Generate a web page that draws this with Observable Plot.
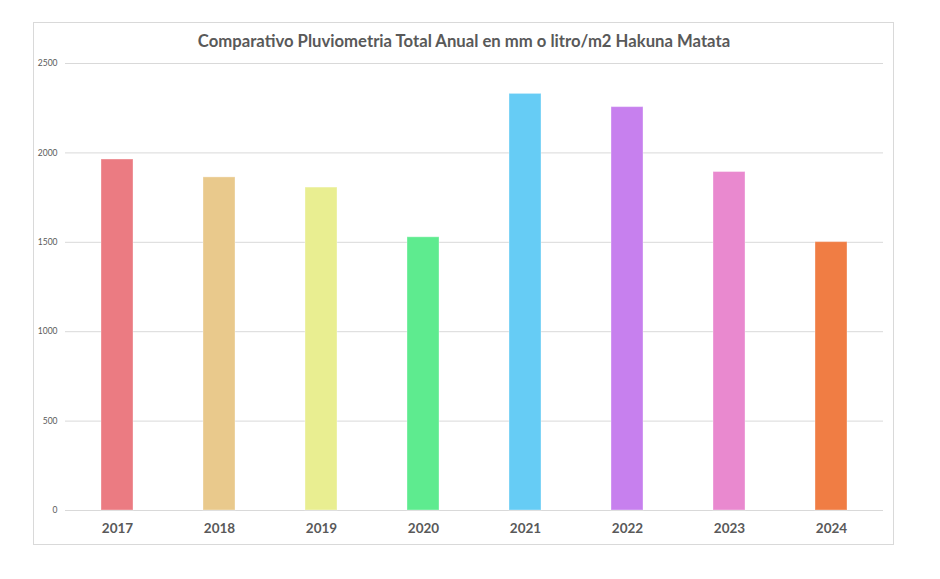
<!DOCTYPE html>
<html>
<head>
<meta charset="utf-8">
<script src="https://cdn.jsdelivr.net/npm/d3@7"></script>
<script src="https://cdn.jsdelivr.net/npm/@observablehq/plot@0.6"></script>
<style>
  body { margin: 0; background: #fff; }
  #frame {
    position: absolute; left: 33px; top: 22px; width: 859px; height: 521px;
    border: 1px solid #d9d9d9;
  }
  #title {
    position: absolute; left: 0; top: 31px; width: 928px; text-align: center;
    font: bold 16.7px Lato, "Open Sans", sans-serif; color: #595959;
  }
  #chart { position: absolute; left: 0; top: 0; }
</style>
</head>
<body>
<div id="frame"></div>
<div id="title">Comparativo Pluviometria Total Anual en mm o litro/m2 Hakuna Matata</div>
<div id="chart"></div>
<script>
const years = ["2017", "2018", "2019", "2020", "2021", "2022", "2023", "2024"];
const rainfall = [1963, 1863, 1806, 1528, 2330, 2256, 1893, 1501];
const barColors = ["#EB7B82", "#E9C98C", "#E9EE91", "#5EEB8F", "#66CCF5", "#C780EE", "#E989CF", "#F07D44"];
const yTicks = [0, 500, 1000, 1500, 2000, 2500];

const data = years.map((year, i) => ({ year, mm: rainfall[i], color: barColors[i] }));

const plot = Plot.plot({
  width: 940,
  height: 579,
  marginLeft: 65,
  marginRight: 57,
  marginTop: 63,
  marginBottom: 69,
  style: { fontFamily: "Lato, 'Open Sans', sans-serif", color: "#595959", background: "transparent" },
  x: { domain: years, paddingInner: 0.687, paddingOuter: 0.3435, label: null },
  y: { domain: [0, 2500], label: null },
  marks: [
    Plot.ruleY(yTicks, { stroke: "#d9d9d9", strokeWidth: 1 }),
    Plot.barY(data, { x: "year", y: "mm", fill: "color", stroke: "#ffffff", strokeOpacity: 0.35, strokeWidth: 1 }),
    Plot.axisY(yTicks, { tickSize: 0, tickPadding: 8, fontSize: 8.5, fill: "#595959", tickFormat: "d" }),
    Plot.axisX({ tickSize: 0, tickPadding: 13, fontSize: 13.5, fontWeight: "bold", fill: "#595959" })
  ]
});
document.getElementById("chart").append(plot);
</script>
</body>
</html>
